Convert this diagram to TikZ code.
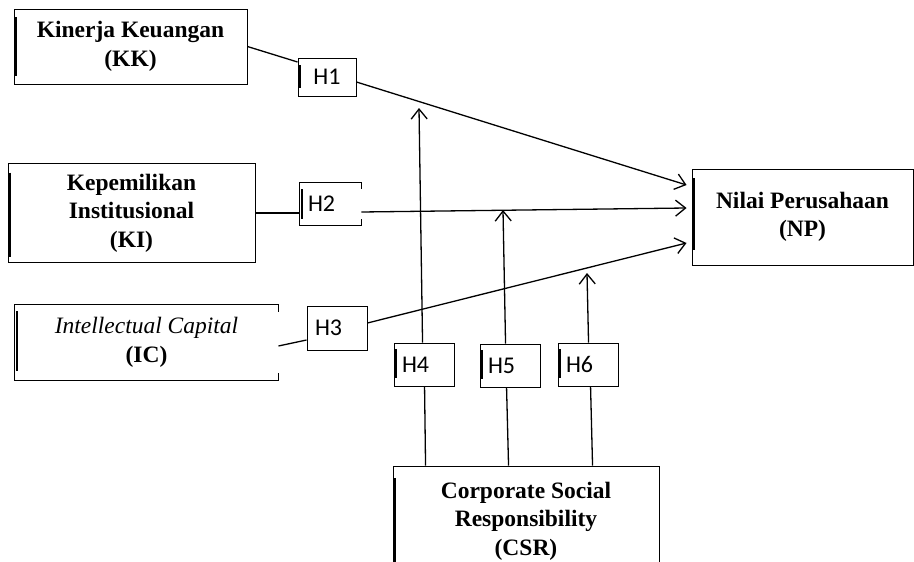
\documentclass[tikz,border=0pt]{standalone}
\usepackage{fontspec}
\setmainfont{Liberation Serif}
\newfontfamily\hfont{Carlito}
\usetikzlibrary{arrows.meta}
\tikzset{
  boxline/.style={line width=0.9pt},
  leftbar/.style 2 args={path picture={\draw[line width=1.4pt]
      ([xshift=1.8pt,yshift=-#1]path picture bounding box.north west) --
      ([xshift=1.8pt,yshift=#2]path picture bounding box.south west);}},
  varbox/.style={draw, boxline, align=center, inner sep=0pt,
      font=\bfseries\fontsize{23.5}{28.5}\selectfont},
  hbox/.style={draw, boxline, align=left, inner xsep=8pt, inner ysep=0pt,
      font=\hfont\fontsize{24}{26}\selectfont},
  conn/.style={line width=1.3pt},
  arr/.style={conn, -{Straight Barb[length=10pt,width=16pt]}}
}
\begin{document}
\begin{tikzpicture}[x=1pt,y=-1pt]
\clip (0,0) rectangle (914,562);
\fill[white] (0,0) rectangle (914,562);

% variable boxes
\node[varbox, minimum width=233pt, minimum height=75pt, leftbar={8pt}{8pt}]
  (KK) at (130.5,46.5) {Kinerja Keuangan\\(KK)};
\node[varbox, minimum width=247pt, minimum height=99pt, leftbar={9pt}{6pt}]
  (KI) at (131.5,213) {Kepemilikan\\Institusional\\(KI)};
\node[varbox, draw=none, minimum width=263pt, minimum height=75pt, leftbar={6pt}{9pt}]
  (IC) at (146.5,342.5) {\mdseries\itshape Intellectual Capital\\\bfseries\upshape (IC)};
\draw[boxline] ([yshift=-7pt]IC.north east) -- (IC.north east) -- (IC.north west)
  -- (IC.south west) -- (IC.south east) -- ([yshift=7pt]IC.south east);
\node[varbox, minimum width=221pt, minimum height=96pt, leftbar={9pt}{15pt}]
  (NP) at (802.5,217) {Nilai Perusahaan\\(NP)};
\node[varbox, minimum width=266pt, minimum height=110pt, leftbar={12pt}{0pt}]
  (CSR) at (526,521) {Corporate Social\\Responsibility\\(CSR)};

% hypothesis boxes
\node[hbox, text width=42pt, align=center, inner xsep=8pt, minimum height=38pt, leftbar={7pt}{8pt}]
  (H1) at (327,77) {H1};
\node[hbox, draw=none, text width=45pt, minimum height=42pt, leftbar={6pt}{6pt}]
  (H2) at (330.5,204) {H2};
\draw[boxline] ([yshift=-6pt]H2.north east) -- (H2.north east) -- (H2.north west)
  -- (H2.south west) -- (H2.south east) -- ([yshift=6pt]H2.south east);
\node[hbox, text width=44pt, minimum height=44pt]
  (H3) at (337,328) {H3};
\node[hbox, text width=44pt, minimum height=43pt, leftbar={6pt}{8pt}]
  (H4) at (424,364.5) {H4};
\node[hbox, text width=44pt, minimum height=43pt, leftbar={6pt}{8pt}]
  (H5) at (510,365.5) {H5};
\node[hbox, text width=44pt, minimum height=43pt, leftbar={6pt}{8pt}]
  (H6) at (588,364.5) {H6};

% free arrow ends on the paths
\coordinate (t4) at (419,108);
\coordinate (t5) at (503,210);
\coordinate (t6) at (587,273);

% connectors
\draw[conn] (KK.east) -- ([yshift=15pt]H1.west);
\draw[arr] ([yshift=-5pt]H1.east) -- ([xshift=-5pt,yshift=32pt]NP.west);
\draw[conn] (KI.east) -- ([yshift=-9pt]H2.west);
\draw[arr] ([yshift=-8pt]H2.east) -- ([xshift=-5pt,yshift=9pt]NP.west);
\draw[conn] ([yshift=-3.5pt]IC.east) -- ([yshift=-12pt]H3.west);
\draw[arr] ([yshift=5pt]H3.east) -- ([xshift=-5pt,yshift=-26pt]NP.west);

\draw[conn] ([xshift=33pt]CSR.north west) -- ([xshift=31pt]H4.south west);
\draw[arr] ([xshift=29pt]H4.north west) -- (t4);
\draw[conn] ([xshift=116pt]CSR.north west) -- ([xshift=27pt]H5.south west);
\draw[arr] ([xshift=26pt]H5.north west) -- (t5);
\draw[conn] ([xshift=200pt]CSR.north west) -- ([xshift=33pt]H6.south west);
\draw[arr] ([xshift=31pt]H6.north west) -- (t6);
\end{tikzpicture}
\end{document}
